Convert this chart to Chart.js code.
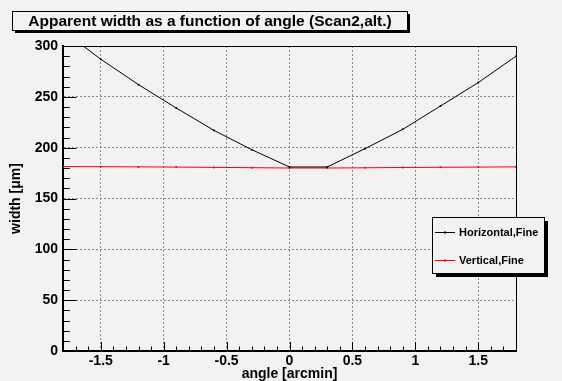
<!DOCTYPE html>
<html>
<head>
<meta charset="utf-8">
<script src="https://cdn.jsdelivr.net/npm/chart.js@4.4.1/dist/chart.umd.min.js"></script>
<style>
  html, body { margin: 0; padding: 0; background: #f2f2f2; }
  canvas { display: block; }
</style>
</head>
<body>
<canvas id="widthChart" width="562" height="381"></canvas>
<script>
const chartTitle = 'Apparent width as a function of angle (Scan2,alt.)';
const angles = [-1.8, -1.5, -1.2, -0.9, -0.6, -0.3, 0, 0.3, 0.6, 0.9, 1.2, 1.5, 1.8];
const horizontalFine = [315, 287, 262, 239, 217, 198, 181, 181, 199, 218, 241, 264, 290];
const verticalFine = [181.4, 181.3, 181.1, 180.9, 180.6, 180.3, 180, 180, 180.2, 180.5, 180.7, 180.9, 181.1];
const seriesLabels = ['Horizontal,Fine', 'Vertical,Fine'];
const seriesColors = ['#000000', '#ff0000'];
const xMajorTicks = [-1.5, -1, -0.5, 0, 0.5, 1, 1.5];
const yMajorTicks = [0, 50, 100, 150, 200, 250, 300];

const FONT = '"Liberation Sans", Arial, Helvetica, sans-serif';
const BG = '#f2f2f2';

function toPoints(values) {
    return angles.map((a, i) => ({ x: a, y: values[i] }));
}

function shadowBox(ctx, x, y, w, h, shadow) {
    ctx.fillStyle = '#000';
    ctx.fillRect(x + shadow, y + shadow, w, h);
    ctx.fillStyle = BG;
    ctx.fillRect(x, y, w, h);
    ctx.strokeStyle = '#000';
    ctx.lineWidth = 1;
    ctx.strokeRect(x + 0.5, y + 0.5, w, h);
}

// frame, inward tick marks, title pave and legend box
const rootStyle = {
    id: 'rootStyle',
    beforeDraw(chart) {
        const ctx = chart.ctx;
        ctx.save();
        ctx.fillStyle = BG;
        ctx.fillRect(0, 0, chart.width, chart.height);
        ctx.restore();
    },
    afterDraw(chart) {
        const { ctx, chartArea: a, scales: { x, y } } = chart;
        ctx.save();

        ctx.strokeStyle = '#000';
        ctx.lineWidth = 1;
        ctx.beginPath();
        ctx.moveTo(a.left, a.top + 0.5);
        ctx.lineTo(a.right + 0.5, a.top + 0.5);
        ctx.lineTo(a.right + 0.5, a.bottom);
        ctx.stroke();

        // x ticks: major every 0.5, minor every 0.1
        ctx.beginPath();
        for (let i = -17; i <= 17; i++) {
            const px = Math.round(x.getPixelForValue(i / 10)) + 0.5;
            const len = i % 5 === 0 ? 9 : 4.5;
            ctx.moveTo(px, a.bottom);
            ctx.lineTo(px, a.bottom - len);
        }
        // y ticks: major every 50, minor every 10
        for (let v = 0; v <= 300; v += 10) {
            const py = Math.round(y.getPixelForValue(v)) + 0.5;
            const len = v % 50 === 0 ? 13.5 : 6.8;
            ctx.moveTo(a.left, py);
            ctx.lineTo(a.left + len, py);
        }
        ctx.stroke();

        // title
        shadowBox(ctx, 12, 11, 395, 19, 3);
        ctx.fillStyle = '#000';
        ctx.font = 'bold 15.5px ' + FONT;
        ctx.textAlign = 'center';
        ctx.textBaseline = 'middle';
        ctx.fillText(chartTitle, 210, 21.5);

        // legend
        shadowBox(ctx, 432, 217, 112, 56, 4);
        ctx.font = 'bold 11px ' + FONT;
        ctx.textAlign = 'left';
        chart.data.datasets.forEach((ds, i) => {
            const ly = (i === 0 ? 232 : 260) + 0.5;
            ctx.strokeStyle = ds.borderColor;
            ctx.beginPath();
            ctx.moveTo(435, ly);
            ctx.lineTo(455, ly);
            ctx.stroke();
            ctx.fillStyle = ds.borderColor;
            ctx.fillRect(444, ly - 1, 2, 2);
            ctx.fillStyle = '#000';
            ctx.fillText(ds.label, 459, ly);
        });

        ctx.restore();
    }
};

const tickFont = { family: FONT, size: 14, weight: 'bold', lineHeight: 1 };

const ctx = document.getElementById('widthChart').getContext('2d');
const widthChart = new Chart(ctx, {
    type: 'line',
    data: {
        datasets: [horizontalFine, verticalFine].map((values, i) => ({
            label: seriesLabels[i],
            data: toPoints(values),
            borderColor: seriesColors[i],
            backgroundColor: seriesColors[i],
            borderWidth: 1,
            pointRadius: 1,
            pointBorderWidth: 0,
            tension: 0
        }))
    },
    options: {
        responsive: false,
        animation: false,
        events: [],
        layout: { padding: { top: 46, right: 46, left: 0, bottom: 0 } },
        plugins: {
            legend: { display: false },
            tooltip: { enabled: false }
        },
        scales: {
            x: {
                type: 'linear',
                min: -1.8,
                max: 1.8,
                afterBuildTicks: s => { s.ticks = xMajorTicks.map(v => ({ value: v })); },
                afterFit: s => { s.height = 30; },
                ticks: {
                    color: '#000',
                    font: tickFont,
                    padding: 3,
                    maxRotation: 0,
                    callback: v => String(v)
                },
                grid: { color: '#8a8a8a', lineWidth: 1, drawTicks: false },
                border: { display: true, color: '#000', width: 2, dash: [2, 2] },
                title: {
                    display: true,
                    text: 'angle [arcmin]',
                    color: '#000',
                    font: tickFont,
                    padding: { top: 0, bottom: 0 }
                }
            },
            y: {
                type: 'linear',
                min: 0,
                max: 300,
                afterBuildTicks: s => { s.ticks = yMajorTicks.map(v => ({ value: v })); },
                afterFit: s => { s.width = 63; },
                ticks: {
                    color: '#000',
                    font: tickFont,
                    padding: 5,
                    callback: v => String(v)
                },
                grid: { color: '#8a8a8a', lineWidth: 1, drawTicks: false },
                border: { display: true, color: '#000', width: 2, dash: [2, 2] },
                title: {
                    display: true,
                    text: 'width [μm]',
                    color: '#000',
                    font: tickFont,
                    padding: { top: 9, bottom: 0 }
                }
            }
        }
    },
    plugins: [rootStyle]
});
</script>
</body>
</html>
